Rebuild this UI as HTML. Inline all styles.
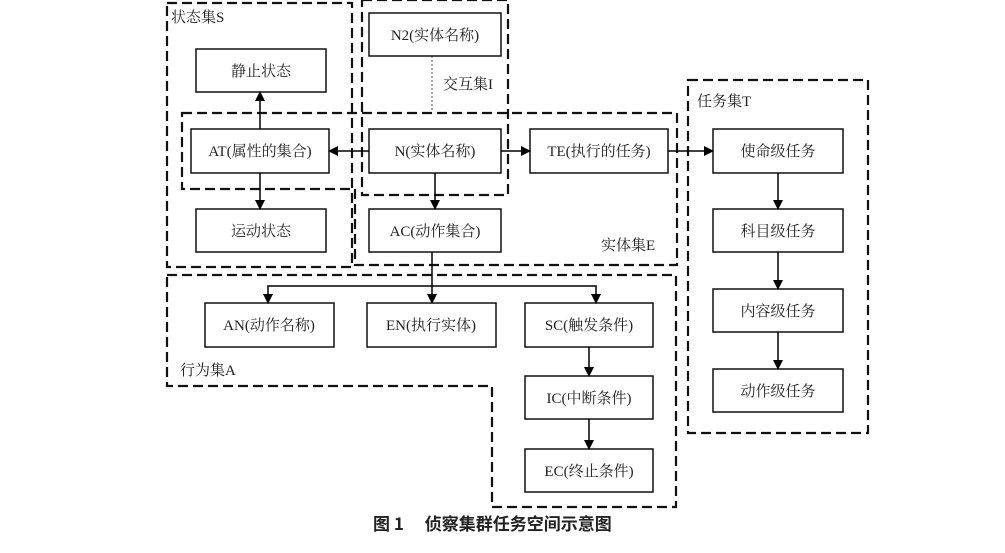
<!DOCTYPE html>
<html><head><meta charset="utf-8"><style>
body{margin:0;background:#fff}
svg text{font-family:"Liberation Serif","Noto Serif CJK SC",serif;font-size:15px;fill:#222}
</style></head><body>
<svg width="1005" height="548" viewBox="0 0 1005 548" xmlns="http://www.w3.org/2000/svg">
<defs><marker id="a" markerWidth="10" markerHeight="10" refX="9" refY="5" orient="auto" markerUnits="userSpaceOnUse"><path d="M0,0 L10,5 L0,10 z" fill="#000"/></marker></defs>
<g fill="none" stroke="#111" stroke-width="2.2" stroke-dasharray="10,5">
<rect x="167" y="3" width="185" height="264"/>
<rect x="362" y="0" width="146" height="195"/>
<path d="M182,113 H677 V265 H355 V189 H182 Z"/>
<rect x="688" y="80" width="180" height="353"/>
<path d="M167,275 H676 V507 H492 V386 H167 Z"/>
</g>
<line x1="432" y1="56" x2="432" y2="112" stroke="#555" stroke-width="1" stroke-dasharray="2,2"/>
<g fill="#fff" stroke="#111" stroke-width="1.5">
<rect x="196" y="49" width="130" height="43"/>
<rect x="191" y="129" width="138" height="44"/>
<rect x="196" y="209" width="130" height="43"/>
<rect x="369" y="13" width="132" height="43"/>
<rect x="369" y="129" width="132" height="44"/>
<rect x="369" y="209" width="132" height="43"/>
<rect x="530" y="129" width="138" height="44"/>
<rect x="713" y="129" width="130" height="44"/>
<rect x="713" y="209" width="130" height="43"/>
<rect x="713" y="289" width="130" height="43"/>
<rect x="713" y="369" width="130" height="43"/>
<rect x="205" y="303" width="129" height="44"/>
<rect x="367" y="303" width="129" height="44"/>
<rect x="525" y="303" width="128" height="44"/>
<rect x="525" y="376" width="128" height="43"/>
<rect x="525" y="449" width="128" height="43"/>
</g>
<g stroke="#000" stroke-width="1.5" fill="none" marker-end="url(#a)">
<line x1="260" y1="129" x2="260" y2="92"/>
<line x1="260" y1="173" x2="260" y2="209"/>
<line x1="369" y1="151" x2="329" y2="151"/>
<line x1="501" y1="151" x2="530" y2="151"/>
<line x1="668" y1="151" x2="713" y2="151"/>
<line x1="435" y1="173" x2="435" y2="209"/>
<line x1="778" y1="173" x2="778" y2="209"/>
<line x1="778" y1="252" x2="778" y2="289"/>
<line x1="778" y1="332" x2="778" y2="369"/>
<line x1="432" y1="252" x2="432" y2="303"/>
<path d="M432,286 H268 V303"/>
<path d="M432,286 H596 V303"/>
<line x1="589" y1="347" x2="589" y2="376"/>
<line x1="589" y1="419" x2="589" y2="449"/>
</g>
<g text-anchor="middle">
<text x="261" y="76">静止状态</text>
<text x="260" y="156">AT(属性的集合)</text>
<text x="261" y="236">运动状态</text>
<text x="435" y="40">N2(实体名称)</text>
<text x="435" y="156">N(实体名称)</text>
<text x="435" y="236">AC(动作集合)</text>
<text x="599" y="156">TE(执行的任务)</text>
<text x="778" y="156">使命级任务</text>
<text x="778" y="236">科目级任务</text>
<text x="778" y="316">内容级任务</text>
<text x="778" y="396">动作级任务</text>
<text x="269" y="330">AN(动作名称)</text>
<text x="431" y="330">EN(执行实体)</text>
<text x="589" y="330">SC(触发条件)</text>
<text x="589" y="403">IC(中断条件)</text>
<text x="589" y="476">EC(终止条件)</text>
</g>
<text x="171" y="22">状态集S</text>
<text x="443" y="89">交互集I</text>
<text x="601" y="250">实体集E</text>
<text x="697" y="106">任务集T</text>
<text x="180" y="375">行为集A</text>
<text x="373" y="530" style="font-size:17px;font-weight:bold;font-family:'Noto Sans CJK SC','Liberation Sans',sans-serif">图 1　 侦察集群任务空间示意图</text>
</svg>
</body></html>
